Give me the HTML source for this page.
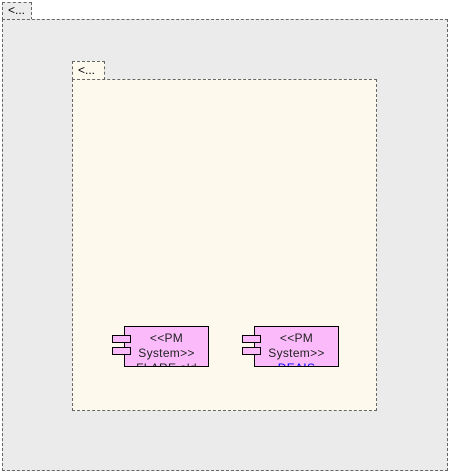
<!DOCTYPE html><html><head><style>
body{margin:0;width:451px;height:474px;background:#fff;position:relative;overflow:hidden;font-family:"Liberation Sans",sans-serif}
div{position:absolute;box-sizing:border-box}
.d{border:1px dashed #666}
.c{background:#fbbbfb;border:1px solid #000;overflow:hidden;font-size:12px;text-align:center;line-height:15px;padding-top:4px;color:#222;letter-spacing:0.3px}
.p{background:#fbbbfb;border:1px solid #000;width:19px;height:8px}
</style></head><body>
<div class="d" style="left:2px;top:2px;width:30px;height:18px;background:#ebebeb;font-size:12px;padding:1px 0 0 5px;overflow:hidden;line-height:13px">&lt;...</div>
<div class="d" style="left:2px;top:19px;width:446px;height:452px;background:#ebebeb"></div>
<div class="d" style="left:72px;top:61px;width:33px;height:19px;background:#fdf9ec;font-size:12px;padding:2px 0 0 5px;overflow:hidden;line-height:13px">&lt;...</div>
<div class="d" style="left:72px;top:79px;width:305px;height:332px;background:#fdf9ec"></div>
<div class="c" style="left:124px;top:326px;width:85px;height:41px">&lt;&lt;PM<br>System&gt;&gt;<br>FLARE old</div>
<div class="p" style="left:112px;top:335px"></div>
<div class="p" style="left:112px;top:347px"></div>
<div class="c" style="left:254px;top:326px;width:85px;height:41px">&lt;&lt;PM<br>System&gt;&gt;<br><span style="color:#00f">DEAIS</span></div>
<div class="p" style="left:242px;top:335px"></div>
<div class="p" style="left:242px;top:347px"></div>
</body></html>
